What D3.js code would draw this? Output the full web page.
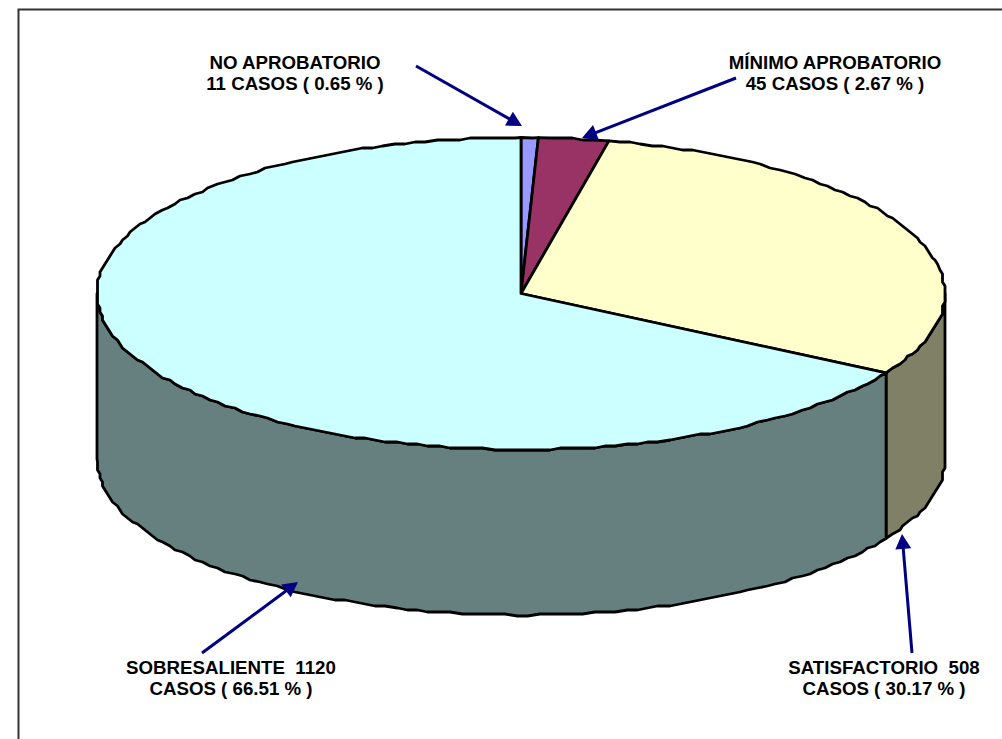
<!DOCTYPE html>
<html>
<head>
<meta charset="utf-8">
<script src="https://cdn.jsdelivr.net/npm/d3@7"></script>
<style>
  html, body { margin: 0; padding: 0; background: #fff; overflow: hidden; }
  text { font-family: "Liberation Sans", Arial, sans-serif; font-weight: bold; font-size: 18.7px; fill: #000; white-space: pre; }
</style>
</head>
<body>
<script>
// values
var categorias = ["NO APROBATORIO", "MÍNIMO APROBATORIO", "SATISFACTORIO", "SOBRESALIENTE"];
var casos = [11, 45, 508, 1120];
var porcentajes = ["0.65", "2.67", "30.17", "66.51"];
var coloresTapa = ["#9999ff", "#993366", "#ffffcc", "#ccffff"];
var coloresLado = ["#4c4c80", "#4d1a33", "#808066", "#668080"];

var width = 1002;
var height = 739;

var cx = 521, cy = 293.5, rx = 424, ry = 156, depth = 165.6;

var svg = d3.select("body").append("svg")
	.attr("width", width)
	.attr("height", height)
	.style("display", "block");

// frame only has top and left lines, the rest runs off the picture
svg.append("path")
	.attr("d", "M18.5," + height + "V9.5H" + width)
	.attr("fill", "none")
	.attr("stroke", "#333")
	.attr("stroke-width", 2);

var pie = d3.pie().sort(null).value(function(d){return d;});
var slices = pie(casos);

// angle 0 is 12 o'clock, clockwise like d3.pie
var punto = function(a, dy){
	return [cx + rx * Math.sin(a), cy - ry * Math.cos(a) + dy];
};

// the original is a low res picture, so the rim comes out stepped
var escalon = function(p){
	return [Math.round(p[0] / 2.5) * 2.5, Math.round(p[1] / 2) * 2];
};

var borde = function(a0, a1, dy){
	var pts = [punto(a0, dy)];
	var paso = Math.PI / 120;
	for (var a = a0 + paso; a < a1 - paso / 2; a += paso) {
		pts.push(escalon(punto(a, dy)));
	}
	pts.push(punto(a1, dy));
	return pts;
};

var linea = d3.line();

// sides: only the front half of the cylinder shows
var frente = slices.map(function(s, i){
	return {
		i: i,
		a0: Math.max(s.startAngle, Math.PI / 2),
		a1: Math.min(s.endAngle, Math.PI * 1.5)
	};
}).filter(function(d){return d.a1 > d.a0;});

svg.append("g").selectAll("path")
	.data(frente)
	.enter().append("path")
	.attr("d", function(d){
		var arriba = borde(d.a0, d.a1, 0);
		var abajo = borde(d.a0, d.a1, depth).reverse();
		return linea(arriba.concat(abajo)) + "Z";
	})
	.attr("fill", function(d){return coloresLado[d.i];})
	.attr("stroke", "#000")
	.attr("stroke-width", 2.8)
	.attr("stroke-linejoin", "round");

// top face
svg.append("g").selectAll("path")
	.data(slices)
	.enter().append("path")
	.attr("d", function(s){
		return linea([[cx, cy]].concat(borde(s.startAngle, s.endAngle, 0))) + "Z";
	})
	.attr("fill", function(s, i){return coloresTapa[i];})
	.attr("stroke", "#000")
	.attr("stroke-width", 2.8)
	.attr("stroke-linejoin", "round");

// labels
var etiquetas = [
	{x: 295, y: 69, l1: categorias[0], l2: casos[0] + " CASOS ( " + porcentajes[0] + " % )"},
	{x: 835, y: 69, l1: categorias[1], l2: casos[1] + " CASOS ( " + porcentajes[1] + " % )"},
	{x: 884, y: 674, l1: categorias[2] + "  " + casos[2], l2: "CASOS ( " + porcentajes[2] + " % )"},
	{x: 231, y: 674, l1: categorias[3] + "  " + casos[3], l2: "CASOS ( " + porcentajes[3] + " % )"}
];

var txt = svg.append("g").selectAll("text")
	.data(etiquetas)
	.enter().append("text")
	.attr("text-anchor", "middle");
txt.append("tspan")
	.attr("x", function(d){return d.x;})
	.attr("y", function(d){return d.y;})
	.text(function(d){return d.l1;});
txt.append("tspan")
	.attr("x", function(d){return d.x;})
	.attr("y", function(d){return d.y + 21;})
	.text(function(d){return d.l2;});

// arrows from the label to its slice
var flechas = [
	{x1: 416, y1: 66, x2: 522, y2: 126},
	{x1: 736, y1: 78, x2: 582, y2: 138},
	{x1: 912, y1: 653, x2: 902, y2: 534},
	{x1: 202, y1: 653, x2: 298, y2: 582}
];

var f = svg.append("g").selectAll("g")
	.data(flechas)
	.enter().append("g")
	.attr("transform", function(d){
		var ang = Math.atan2(d.y2 - d.y1, d.x2 - d.x1) * 180 / Math.PI;
		return "translate(" + d.x2 + "," + d.y2 + ") rotate(" + ang + ")";
	});
f.append("line")
	.attr("x1", function(d){return -Math.hypot(d.x2 - d.x1, d.y2 - d.y1);})
	.attr("x2", -10)
	.attr("stroke", "#000080")
	.attr("stroke-width", 3);
f.append("path")
	.attr("d", "M0,0L-15,-8L-15,8Z")
	.attr("fill", "#000080");
</script>
</body>
</html>
